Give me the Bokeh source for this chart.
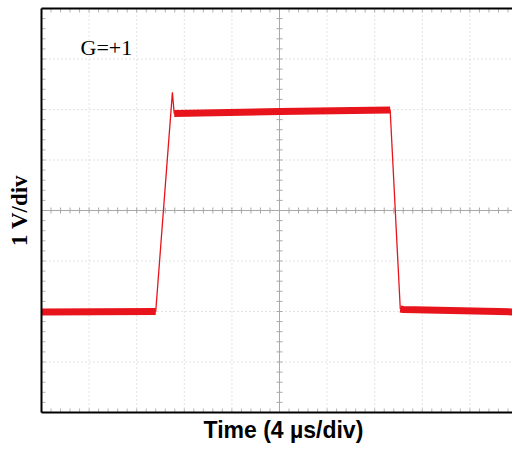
import numpy as np
from bokeh.plotting import figure
from bokeh.models import Range1d, FixedTicker, LinearAxis, Title, Label
from bokeh.embed import file_html
from bokeh.resources import INLINE

# ---- data ----
trace_t_us = [0.0, 9.6, 11.0, 11.15, 20.0, 29.3, 30.15, 30.4, 40.0]
trace_v = [-2.01, -2.0, 2.34, 1.92, 1.96, 1.99, -1.95, -1.96, -2.01]
flat_index_groups = [[0, 1], [3, 4, 5], [6, 7, 8]]

time_per_div_us = 4
volts_per_div = 1
n_xdiv = 10
n_ydiv = 8

x_title = "Time (4 µs/div)"
y_title = "1 V/div"
gain_text = "G=+1"

# ---- figure geometry ----
W, H = 512, 445
left_b, top_b, bottom_b = 41, 8, 33
frame_w = W - left_b
frame_h = H - top_b - bottom_b
px_per_div_x = 47.6
x_end = time_per_div_us * frame_w / px_per_div_x
y_half = n_ydiv / 2 * volts_per_div
x_full = n_xdiv * time_per_div_us

p = figure(width=W, height=H, output_backend="svg", toolbar_location=None,
           x_range=Range1d(0, x_end), y_range=Range1d(-y_half, y_half),
           min_border_left=left_b, min_border_top=top_b,
           min_border_bottom=bottom_b, min_border_right=0,
           x_axis_location=None, y_axis_location=None)
p.outline_line_color = None
p.background_fill_color = "white"
p.border_fill_color = "white"
p.xgrid.visible = False
p.ygrid.visible = False

major_x = [i * time_per_div_us for i in range(n_xdiv + 1)]
major_y = [(i - n_ydiv // 2) * volts_per_div for i in range(n_ydiv + 1)]
minor_x = list(np.arange(0, x_full + 1e-9, time_per_div_us / 5))
minor_y = list(np.arange(-y_half, y_half + 1e-9, volts_per_div / 5))

sx = px_per_div_x / time_per_div_us      # px per µs
sy = frame_h / (2 * y_half)              # px per V

# dotted grid
xc = x_full / 2
gx = [x for x in major_x if 0 < x < x_full and x != xc]
gy = [y for y in major_y if -y_half < y < y_half and y != 0]
p.segment(x0=gx, y0=[-y_half] * len(gx), x1=gx, y1=[y_half] * len(gx),
          line_color="#c8c8c8", line_width=1, line_dash="1 3")
p.segment(x0=[0] * len(gy), y0=gy, x1=[x_full] * len(gy), y1=gy,
          line_color="#c8c8c8", line_width=1, line_dash="1 3")

# edge ticks (inward)
tick_len = 4
p.segment(x0=[0] * len(minor_y), y0=minor_y, x1=[tick_len / sx] * len(minor_y), y1=minor_y,
          line_color="#b4b4b4", line_width=1)
p.segment(x0=minor_x, y0=[-y_half] * len(minor_x), x1=minor_x,
          y1=[-y_half + tick_len / sy] * len(minor_x), line_color="#b4b4b4", line_width=1)
p.segment(x0=minor_x, y0=[y_half] * len(minor_x), x1=minor_x,
          y1=[y_half - tick_len / sy] * len(minor_x), line_color="#b4b4b4", line_width=1)

# center cross lines with ticks
p.line([0, x_full], [0, 0], line_color="#a8a8a8", line_width=1)
p.line([xc, xc], [-y_half, y_half], line_color="#a8a8a8", line_width=1)
p.segment(x0=minor_x, y0=[-3 / sy] * len(minor_x), x1=minor_x, y1=[3 / sy] * len(minor_x),
          line_color="#a8a8a8", line_width=1)
p.segment(x0=[xc - 3 / sx] * len(minor_y), y0=minor_y, x1=[xc + 3 / sx] * len(minor_y),
          y1=minor_y, line_color="#a8a8a8", line_width=1)

# frame border axes (left, bottom, top), no ticks
def frame_axis(loc, label=None):
    ax = LinearAxis(ticker=FixedTicker(ticks=[]))
    ax.axis_line_color = "black"
    ax.axis_line_width = 2
    ax.major_tick_out = 0
    ax.major_tick_in = 0
    ax.minor_tick_out = 0
    ax.minor_tick_in = 0
    ax.major_label_standoff = 0
    if label:
        ax.axis_label = label
        ax.axis_label_text_font = "Liberation Serif"
        ax.axis_label_text_font_style = "bold"
        ax.axis_label_text_font_size = "23px"
        ax.axis_label_text_color = "black"
        ax.axis_label_standoff = 10
    p.add_layout(ax, loc)

frame_axis("left", y_title)
frame_axis("below")
frame_axis("above")

p.add_layout(Title(text=x_title, align="left", offset=162, text_font="Liberation Sans",
                   text_font_style="bold", text_font_size="23px", text_color="black",
                   standoff=5), "below")

# trace
red = "#e8141c"
p.line(trace_t_us, trace_v, line_color=red, line_width=1.3)
xs = [[trace_t_us[i] for i in g] for g in flat_index_groups]
ys = [[trace_v[i] for i in g] for g in flat_index_groups]
p.multi_line(xs, ys, line_color=red, line_width=7, line_cap="butt")

# gain label inside the frame
def dx(page_x):
    return (page_x - left_b) / sx
def dy(page_y):
    return ((top_b + frame_h / 2) - page_y) / sy

p.add_layout(Label(x=dx(80), y=dy(47), text=gain_text, text_font="Liberation Serif",
                   text_font_size="22px", text_align="left", text_baseline="middle",
                   text_color="black"))

open("out.html", "w").write(file_html(p, INLINE))
